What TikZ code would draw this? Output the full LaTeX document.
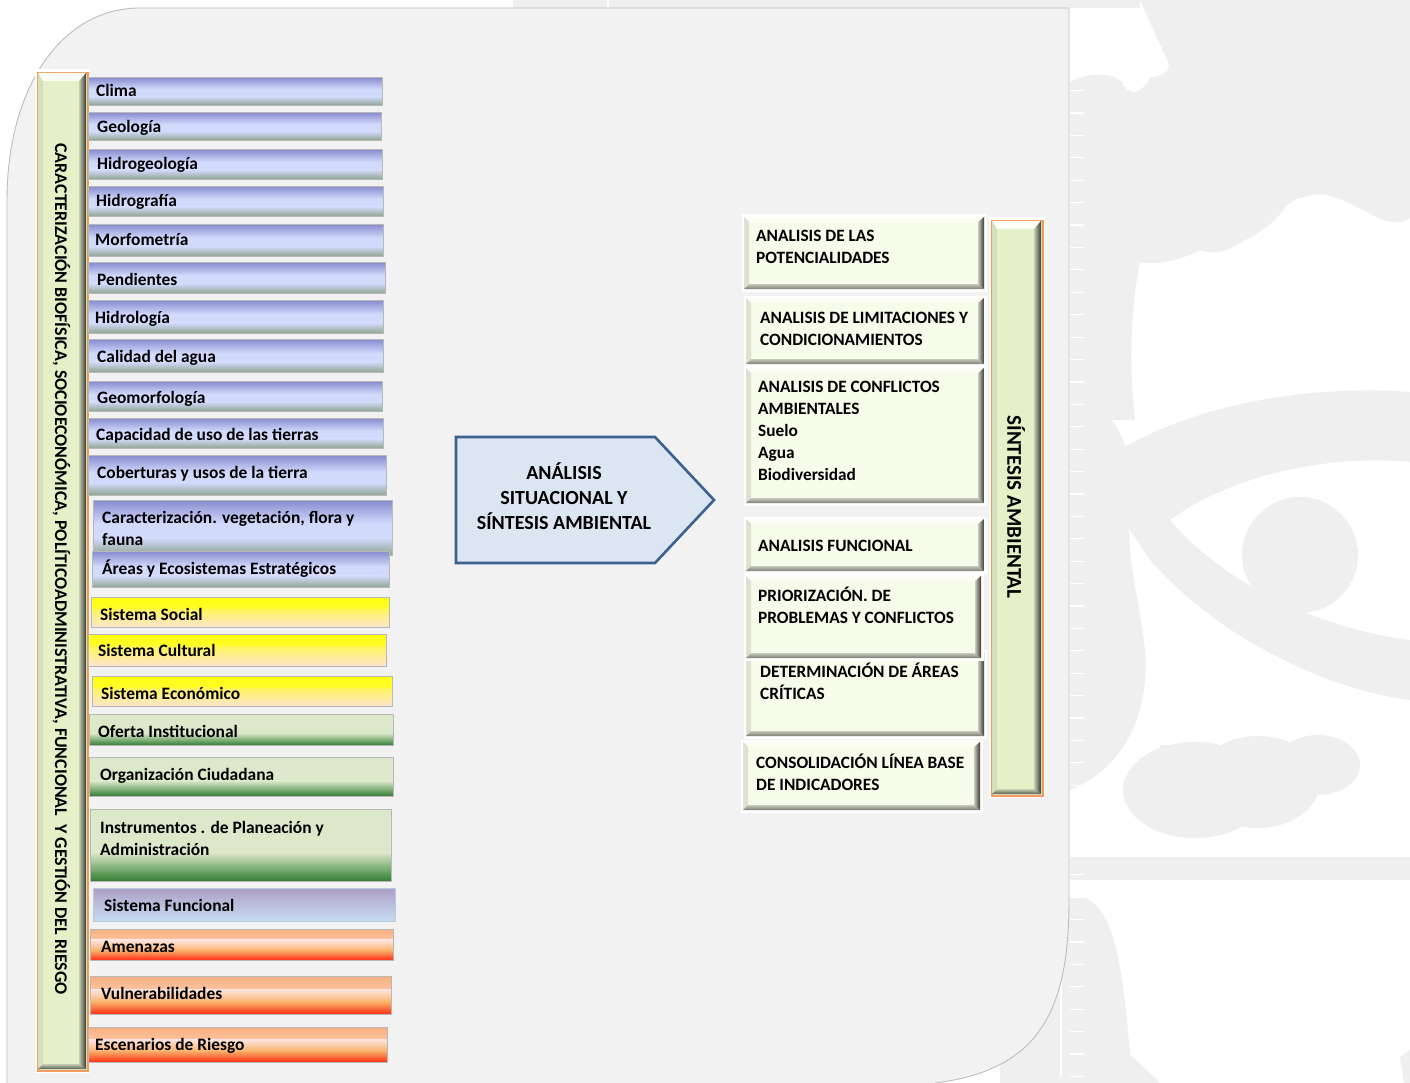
\documentclass[tikz,border=0pt]{standalone}
\usepackage{fontspec}
\setmainfont{Carlito}
\usetikzlibrary{calc}
\definecolor{panel}{HTML}{F2F2F2}
\definecolor{panelB}{HTML}{BDBDBD}
\definecolor{wm}{HTML}{EEEFEE}
\definecolor{boxgray}{HTML}{B8B8B8}
\definecolor{bTop}{HTML}{898CCF}
\definecolor{bMid}{HTML}{D2DAFC}
\definecolor{bBot}{HTML}{8FA38E}
\definecolor{yTop}{HTML}{FFFF10}
\definecolor{yMid}{HTML}{FFF55A}
\definecolor{yBot}{HTML}{FDE4D4}
\definecolor{gMid}{HTML}{DBE8C9}
\definecolor{gBot}{HTML}{2E7C31}
\definecolor{pTop}{HTML}{AE9FC6}
\definecolor{pBot}{HTML}{C7DDF3}
\definecolor{oA}{HTML}{FAB07E}
\definecolor{oB}{HTML}{FDE6E2}
\definecolor{oC}{HTML}{F9B06A}
\definecolor{oD}{HTML}{FF2A12}
\definecolor{barF}{HTML}{E3F0C8}
\definecolor{barO}{HTML}{F39B5A}
\definecolor{rF}{HTML}{F7FBEA}
\definecolor{bvTop}{HTML}{FCFEF6}
\definecolor{bvLeft}{HTML}{DDE1D2}
\definecolor{bvRa}{HTML}{C9CCBD}
\definecolor{bvRb}{HTML}{3A3A36}
\definecolor{bvBa}{HTML}{C6CABA}
\definecolor{bvBb}{HTML}{7C7D74}
\definecolor{arF}{HTML}{DCE6F2}
\definecolor{arB}{HTML}{3B618E}
\newcommand\vband[4]{\shade[top color=#3,bottom color=#4] ($(path picture bounding box.north west)!#1!(path picture bounding box.south west)$) rectangle ($(path picture bounding box.north east)!#2!(path picture bounding box.south east)$);}
\tikzset{
 lb/.style={draw=boxgray, line width=0.9pt, inner sep=0pt, anchor=north west},
 blueb/.style={lb, path picture={\fill[bMid] (path picture bounding box.south west) rectangle (path picture bounding box.north east);\vband{0}{0.42}{bTop}{bMid}\vband{0.68}{1}{bMid}{bBot}}},
 yelb/.style={lb, path picture={\vband{0}{0.4}{yTop}{yMid}\vband{0.39}{1}{yMid}{yBot}}},
 grnb/.style={lb, path picture={\fill[gMid] (path picture bounding box.south west) rectangle (path picture bounding box.north east);\vband{0.6}{1}{gMid}{gBot}}},
 purb/.style={lb, draw=pBot!80!gray, path picture={\vband{0}{1}{pTop}{pBot}}},
 orab/.style={lb, path picture={\vband{0}{0.34}{oA}{oB}\vband{0.33}{0.68}{oB}{oC}\vband{0.67}{1}{oC}{oD}}},
 lt/.style={font=\fontsize{17.4}{22}\selectfont\bfseries, inner sep=0pt, anchor=base west},
 lt2/.style={font=\fontsize{17.4}{22}\selectfont\bfseries, inner sep=0pt, anchor=north west, align=left},
 rbx/.style={fill=rF, inner sep=0pt, anchor=north west},
 rt/.style={font=\fontsize{17.3}{22}\selectfont\bfseries, inner sep=0pt, anchor=north west, align=left},
 arrowS/.style={fill=arF, draw=arB, line width=2.6pt, line join=miter},
 vtxt/.style={font=\fontsize{17.9}{21}\selectfont\bfseries, inner sep=0pt, rotate=-90},
}
\newcommand\LB[6]{\node[#6, minimum width={#4-#2}, minimum height={#5-#3}] (#1) at (#2,#3) {};}
\newcommand\RB[5]{%
 \fill[white] ({#2-2.5},{#3-2.5}) rectangle ({#4+2.5},{#5+2.5});
 \node[rbx, minimum width={#4-#2}, minimum height={#5-#3}] (#1) at (#2,#3) {};
 \fill[bvTop] (#2,#3) -- (#4,#3) -- ({#4-6},{#3+5}) -- ({#2+5},{#3+5}) -- cycle;
 \fill[bvLeft] (#2,#3) -- ({#2+5},{#3+5}) -- ({#2+5},{#5-5}) -- (#2,#5) -- cycle;
 \shade[top color=bvBa, bottom color=bvBb] (#2,#5) -- (#4,#5) -- ({#4-6},{#5-5}) -- ({#2+5},{#5-5}) -- cycle;
 \shade[left color=bvRa, right color=bvRb] (#4,#3) -- (#4,#5) -- ({#4-6},{#5-5}) -- ({#4-6},{#3+5}) -- cycle;
}
\newcommand\VBAR[5]{%
 \fill[white] ({#2-2.5},{#3-2.5}) rectangle ({#4+2.5},{#5+2.5});
 \node[fill=barF, draw=barO, line width=1.8pt, inner sep=0pt, anchor=north west, minimum width={#4-#2}, minimum height={#5-#3}] (#1) at (#2,#3) {};
 \fill[bvTop] ({#2+1},{#3+1}) -- ({#4-1},{#3+1}) -- ({#4-8},{#3+9}) -- ({#2+6},{#3+9}) -- cycle;
 \fill[barF!85!gray] ({#2+1},{#3+1}) -- ({#2+6},{#3+9}) -- ({#2+6},{#5-6}) -- ({#2+1},{#5-1}) -- cycle;
 \shade[top color=barF!70!gray, bottom color=barF!40!black] ({#2+1},{#5-1}) -- ({#4-1},{#5-1}) -- ({#4-8},{#5-6}) -- ({#2+6},{#5-6}) -- cycle;
 \shade[left color=barF!70!gray, right color=barF!25!black] ({#4-1},{#3+1}) -- ({#4-1},{#5-1}) -- ({#4-8},{#5-6}) -- ({#4-8},{#3+9}) -- cycle;
}
\begin{document}
\begin{tikzpicture}[x=1pt,y=-1pt]
\useasboundingbox (0,0) rectangle (1410,1083);
\begin{scope}
\clip (0,0) rectangle (1410,1083);
\fill[white] (0,0) rectangle (1410,1083);
% ---- watermark silhouettes ----
\fill[wm] (513,0) -- (1140,0) -- (1140,8) -- (513,8) -- cycle;
\fill[wm] (1140,0) -- (1410,0) -- (1410,218) .. controls (1400,226) and (1385,222) .. (1368,213)
  .. controls (1355,206) and (1345,200) .. (1330,196) .. controls (1318,192) and (1300,196) .. (1288,204)
  .. controls (1275,222) and (1262,232) .. (1245,240) .. controls (1230,250) and (1215,256) .. (1200,250)
  .. controls (1185,258) and (1160,266) .. (1140,262) .. controls (1132,300) and (1128,360) .. (1135,420)
  -- (1070,420) -- (1070,82) .. controls (1090,72) and (1110,72) .. (1122,82)
  .. controls (1128,96) and (1140,96) .. (1150,78) .. controls (1160,76) and (1172,72) .. (1168,62) -- cycle;
\fill[wm] (1070,400) .. controls (1110,400) and (1135,440) .. (1130,500) .. controls (1125,560) and (1140,600) .. (1145,650)
  .. controls (1150,720) and (1120,770) .. (1070,790) -- cycle;
\fill[wm] (1090,470) .. controls (1180,400) and (1320,385) .. (1410,392) -- (1410,700)
  .. controls (1330,690) and (1220,640) .. (1150,560) .. controls (1130,530) and (1110,500) .. (1090,470) -- cycle;
\fill[white] (1170,520) .. controls (1240,470) and (1340,455) .. (1410,462) -- (1410,640)
  .. controls (1330,630) and (1230,590) .. (1170,520) -- cycle;
\fill[wm] (1300,555) circle [radius=58];
\fill[wm] (1195,790) ellipse [x radius=72, y radius=48];
\fill[wm] (1258,782) ellipse [x radius=62, y radius=46];
\fill[wm] (1318,765) ellipse [x radius=42, y radius=30];
\fill[wm] (1160,745) rectangle (1340,790);
\fill[wm] (1070,857) rectangle (1410,880);
\fill[wm] (1000,900) -- (1082,897) .. controls (1112,905) and (1120,960) .. (1126,1010)
  .. controls (1130,1050) and (1130,1060) .. (1132,1056) -- (1160,1083) -- (1000,1083) -- cycle;
\fill[wm] (1400,1057) -- (1410,1050) -- (1410,1083) -- (1404,1083) -- cycle;
\draw[white, line width=1.2pt] (1061,968) -- (1061,1076);
\draw[white, line width=1.2pt] (608,0) -- (608,8);
\foreach \k in {0,...,44} \draw[white, line width=1.2pt] (1070,{90.7+22.4*\k}) -- (1084,{90.7+22.4*\k});
% ---- panel ----
\filldraw[fill=panel, draw=panelB, line width=0.9pt] (7,1095) -- (7,200) .. controls (7,90) and (60,8) .. (140,8)
  -- (1069,8) -- (1069,900) .. controls (1069,1010) and (1040,1070) .. (935,1083) -- (935,1095) -- cycle;
\end{scope}
% ---- left bar ----
\VBAR{lbar}{37}{72}{87}{1070}
\node[vtxt] (lbarT) at (61.5,569) {CARACTERIZACIÓN BIOFÍSICA, SOCIOECONÓMICA, POLÍTICOADMINISTRATIVA, FUNCIONAL\ \ Y GESTIÓN DEL RIESGO};
% ---- left boxes ----
\LB{clima}{88}{77}{382}{105}{blueb}
\LB{geol}{88}{112}{381}{140}{blueb}
\LB{hgeo}{88}{149}{382}{179}{blueb}
\LB{hgra}{88}{186}{383}{216}{blueb}
\LB{morf}{88}{224}{383}{256}{blueb}
\LB{pend}{88}{262}{385}{293}{blueb}
\LB{hidr}{88}{300}{383}{333}{blueb}
\LB{cali}{88}{339}{383}{372}{blueb}
\LB{geom}{88}{381}{382}{411}{blueb}
\LB{capa}{88}{418}{383}{448}{blueb}
\LB{cobe}{88}{455}{386}{495}{blueb}
\LB{cara}{93}{500}{392}{555}{blueb}
\LB{area}{92}{551}{389}{587}{blueb}
\LB{ssoc}{91}{597}{389}{627}{yelb}
\LB{scul}{88}{634}{386}{666}{yelb}
\LB{seco}{92}{676}{392}{706}{yelb}
\LB{ofer}{89}{714}{393}{745}{grnb}
\LB{orga}{89}{757}{393}{796}{grnb}
\LB{inst}{90}{809}{391}{881}{grnb}
\LB{sfun}{93}{888}{395}{921}{purb}
\LB{amen}{90}{929}{393}{960}{orab}
\LB{vuln}{90}{976}{391}{1014}{orab}
\LB{esce}{88}{1027}{387}{1062}{orab}
\node[lt] (climaT) at (96,97) {Clima};
\node[lt] (geolT) at (97,133) {Geología};
\node[lt] (hgeoT) at (97,170) {Hidrogeología};
\node[lt] (hgraT) at (96,207) {Hidrografía};
\node[lt] (morfT) at (95,246) {Morfometría};
\node[lt] (pendT) at (97,285) {Pendientes};
\node[lt] (hidrT) at (95,323) {Hidrología};
\node[lt] (caliT) at (97,362) {Calidad del agua};
\node[lt] (geomT) at (97,403) {Geomorfología};
\node[lt] (capaT) at (96,440) {Capacidad de uso de las tierras};
\node[lt] (cobeT) at (97,478) {Coberturas y usos de la tierra};
\node[lt2] (caraT) at (102,507.6) {\strut Caracterización. vegetación, flora y\\fauna};
\node[lt] (areaT) at (102,574) {Áreas y Ecosistemas Estratégicos};
\node[lt] (ssocT) at (100,620) {Sistema Social};
\node[lt] (sculT) at (98,656) {Sistema Cultural};
\node[lt] (secoT) at (101,699) {Sistema Económico};
\node[lt] (oferT) at (98,737) {Oferta Institucional};
\node[lt] (orgaT) at (100,780) {Organización Ciudadana};
\node[lt2] (instT) at (100,817.6) {\strut Instrumentos . de Planeación y\\Administración};
\node[lt] (sfunT) at (104,911) {Sistema Funcional};
\node[lt] (amenT) at (101,952) {Amenazas};
\node[lt] (vulnT) at (101,999) {Vulnerabilidades};
\node[lt] (esceT) at (95,1050) {Escenarios de Riesgo};
% ---- central arrow ----
\draw[arrowS] (456,437) -- (655,437) -- (714,500) -- (655,563) -- (456,563) -- cycle;
\node[font=\fontsize{20}{25}\selectfont\bfseries, align=center, inner sep=0pt] (anal) at (564,496) {ANÁLISIS\\SITUACIONAL Y\\SÍNTESIS AMBIENTAL};
% ---- right boxes ----
\RB{r1}{744}{217}{984}{289}
\RB{r2}{746}{298}{984}{364}
\RB{r3}{746}{368}{984}{503}
\RB{r4}{746}{519}{984}{571}
\RB{r6}{746}{652}{984}{736}
\RB{r5}{746}{576}{981}{658}
\RB{r7}{743}{742}{980}{810}
\node[rt] (r1T) at (756,226) {\strut ANALISIS DE LAS\\POTENCIALIDADES};
\node[rt] (r2T) at (760,308) {\strut ANALISIS DE LIMITACIONES Y\\CONDICIONAMIENTOS};
\node[rt] (r3T) at (758,377) {\strut ANALISIS DE CONFLICTOS\\AMBIENTALES\\Suelo\\Agua\\Biodiversidad};
\node[rt] (r4T) at (758,536) {\strut ANALISIS FUNCIONAL};
\node[rt] (r5T) at (758,586) {\strut PRIORIZACIÓN. DE\\PROBLEMAS Y CONFLICTOS};
\node[rt] (r6T) at (760,662) {\strut DETERMINACIÓN DE ÁREAS\\CRÍTICAS};
\node[rt] (r7T) at (756,753) {\strut CONSOLIDACIÓN LÍNEA BASE\\DE INDICADORES};
% ---- right bar ----
\VBAR{rbar}{991}{220}{1042}{795}
\node[vtxt, font=\fontsize{21}{25}\selectfont\bfseries] (rbarT) at (1016,507) {SÍNTESIS AMBIENTAL};
\end{tikzpicture}
\end{document}
